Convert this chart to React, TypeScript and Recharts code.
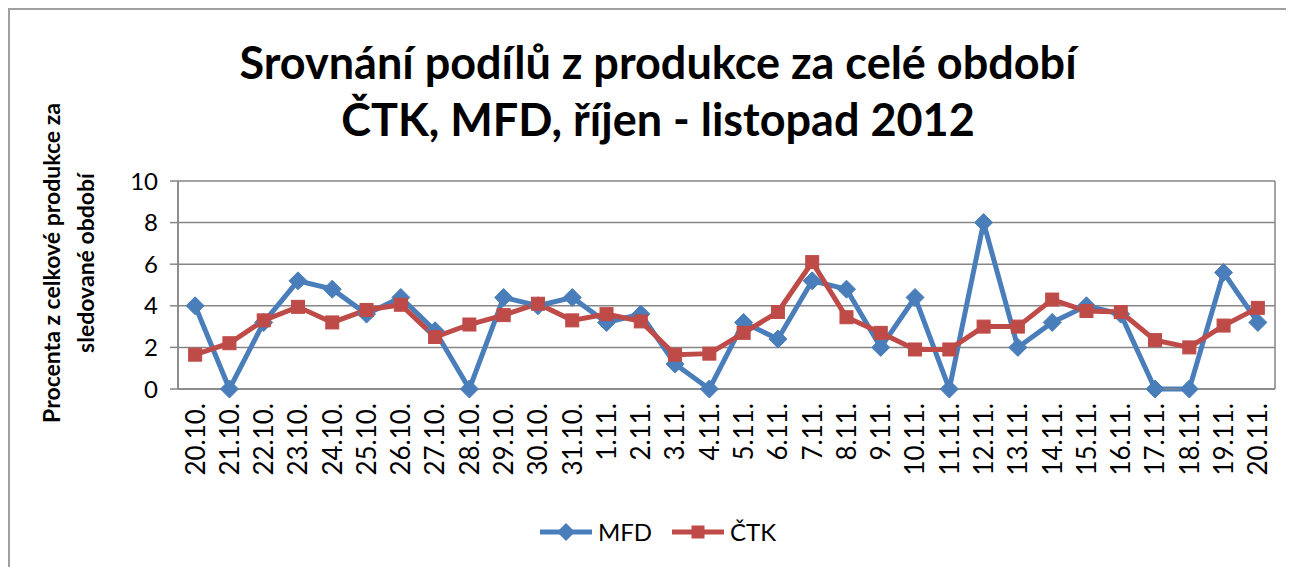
import React from 'react';
import { LineChart, Line, XAxis, YAxis, CartesianGrid, Legend } from 'recharts';

const categories = [
  '20.10.', '21.10.', '22.10.', '23.10.', '24.10.', '25.10.', '26.10.', '27.10.', '28.10.', '29.10.', '30.10.', '31.10.',
  '1.11.', '2.11.', '3.11.', '4.11.', '5.11.', '6.11.', '7.11.', '8.11.', '9.11.', '10.11.', '11.11.', '12.11.',
  '13.11.', '14.11.', '15.11.', '16.11.', '17.11.', '18.11.', '19.11.', '20.11.',
];
const mfdValues = [4.0, 0, 3.2, 5.2, 4.8, 3.6, 4.4, 2.8, 0, 4.4, 4.0, 4.4, 3.2, 3.6, 1.2, 0, 3.2, 2.4, 5.2, 4.8, 2.0, 4.4, 0, 8.0, 2.0, 3.2, 4.0, 3.6, 0, 0, 5.6, 3.2];
const ctkValues = [1.65, 2.2, 3.3, 3.95, 3.2, 3.8, 4.05, 2.5, 3.1, 3.55, 4.1, 3.3, 3.6, 3.25, 1.65, 1.7, 2.7, 3.7, 6.1, 3.45, 2.7, 1.9, 1.9, 3.0, 3.0, 4.3, 3.75, 3.7, 2.35, 2.0, 3.05, 3.9];
const yTicks = [0, 2, 4, 6, 8, 10];
const seriesNames = ['MFD', 'ČTK'];
const titleLines = ['Srovnání podílů z produkce za celé období', 'ČTK, MFD, říjen - listopad 2012'];
const yTitleLines = ['Procenta z celkové produkce za', 'sledované období'];

const data = categories.map((c, i) => ({ date: c, MFD: mfdValues[i], CTK: ctkValues[i] }));
const boundaryTicks = [...categories.map((_, i) => i), categories.length];

const BLUE = '#4a7ebb';
const RED = '#be4b48';
const GRID = '#868686';
const FONT = 'Lato, "Open Sans", sans-serif';

const W = 1280;
const H = 557;

const Diamond = (props: any) => {
  const { cx, cy, index } = props;
  if (cx == null || cy == null) return <g key={`md-${index}`} />;
  const r = 9;
  return (
    <polygon
      key={`md-${index}`}
      points={`${cx},${cy - r} ${cx + r},${cy} ${cx},${cy + r} ${cx - r},${cy}`}
      fill={BLUE}
      stroke={BLUE}
      strokeWidth={1}
    />
  );
};

const Square = (props: any) => {
  const { cx, cy, index } = props;
  if (cx == null || cy == null) return <g key={`cs-${index}`} />;
  const s = 6.5;
  return <rect key={`cs-${index}`} x={cx - s} y={cy - s} width={2 * s} height={2 * s} fill={RED} stroke={RED} strokeWidth={1} />;
};

const XTick = (props: any) => {
  const { x, y, payload } = props;
  return (
    <text
      x={x}
      y={y}
      transform={`rotate(-90, ${x}, ${y})`}
      textAnchor="end"
      dy="0.36em"
      fontSize={26}
      fontFamily={FONT}
      fill="#000"
    >
      {payload.value}
    </text>
  );
};

const YTitle = () => (
  <g>
    {yTitleLines.map((t, i) => {
      const x = 42 + i * 34;
      const y = 253;
      return (
        <text
          key={t}
          x={x}
          y={y}
          transform={`rotate(-90, ${x}, ${y})`}
          textAnchor="middle"
          dy="0.36em"
          fontSize={23}
          fontWeight="bold"
          fontFamily={FONT}
          fill="#000"
        >
          {t}
        </text>
      );
    })}
  </g>
);

const renderLegend = () => (
  <div
    style={{
      display: 'flex',
      justifyContent: 'center',
      alignItems: 'center',
      fontFamily: FONT,
      fontSize: 24,
      color: '#000',
      paddingLeft: 14,
    }}
  >
    <span style={{ display: 'flex', alignItems: 'center', marginRight: 18 }}>
      <svg width={56} height={22}>
        <line x1={2} y1={11} x2={54} y2={11} stroke={BLUE} strokeWidth={5} />
        <polygon points="28,2 37,11 28,20 19,11" fill={BLUE} />
      </svg>
      <span style={{ marginLeft: 4 }}>{seriesNames[0]}</span>
    </span>
    <span style={{ display: 'flex', alignItems: 'center' }}>
      <svg width={56} height={22}>
        <line x1={2} y1={11} x2={54} y2={11} stroke={RED} strokeWidth={5} />
        <rect x={21.5} y={4.5} width={13} height={13} fill={RED} />
      </svg>
      <span style={{ marginLeft: 4 }}>{seriesNames[1]}</span>
    </span>
  </div>
);

export default function App() {
  return (
    <div
      style={{
        position: 'relative',
        width: 1286,
        height: 559,
        borderTop: '2px solid #a0a0a0',
        borderLeft: '2px solid #a0a0a0',
        boxSizing: 'border-box',
        fontFamily: FONT,
        background: '#fff',
      }}
    >
      <LineChart
        width={W}
        height={H}
        data={data}
        margin={{ top: 171, right: 15, bottom: 68, left: 0 }}
      >
        <CartesianGrid xAxisId="a" stroke={GRID} strokeWidth={1.5} />
        <XAxis
          xAxisId="b"
          dataKey="date"
          scale="band"
          interval={0}
          height={100}
          axisLine={false}
          tickLine={false}
          tickSize={0}
          tickMargin={4}
          tick={<XTick />}
        />
        <XAxis
          xAxisId="a"
          type="number"
          domain={[0, categories.length]}
          ticks={boundaryTicks}
          height={10}
          tick={false}
          tickSize={8}
          axisLine={{ stroke: GRID, strokeWidth: 1.5 }}
          tickLine={{ stroke: GRID, strokeWidth: 1.5 }}
        />
        <YAxis
          domain={[0, 10]}
          ticks={yTicks}
          width={168}
          tickSize={8}
          tickMargin={12}
          axisLine={{ stroke: GRID, strokeWidth: 1.5 }}
          tickLine={{ stroke: GRID, strokeWidth: 1.5 }}
          tick={{ fontSize: 24, fill: '#000', fontFamily: FONT }}
          label={{ content: () => <YTitle /> }}
        />
        <Line
          xAxisId="b"
          dataKey="MFD"
          name={seriesNames[0]}
          stroke={BLUE}
          strokeWidth={5}
          dot={<Diamond />}
          isAnimationActive={false}
        />
        <Line
          xAxisId="b"
          dataKey="CTK"
          name={seriesNames[1]}
          stroke={RED}
          strokeWidth={5}
          dot={<Square />}
          isAnimationActive={false}
        />
        <Legend
          layout="horizontal"
          verticalAlign="middle"
          align="center"
          content={renderLegend}
          wrapperStyle={{ top: 507, left: 0, width: W }}
        />
      </LineChart>
      <div
        style={{
          position: 'absolute',
          left: 0,
          top: 24,
          width: 1296,
          textAlign: 'center',
          fontFamily: FONT,
          fontWeight: 'bold',
          fontSize: 45,
          lineHeight: '57px',
          color: '#000',
        }}
      >
        {titleLines.map((t) => (
          <div key={t}>{t}</div>
        ))}
      </div>
    </div>
  );
}
